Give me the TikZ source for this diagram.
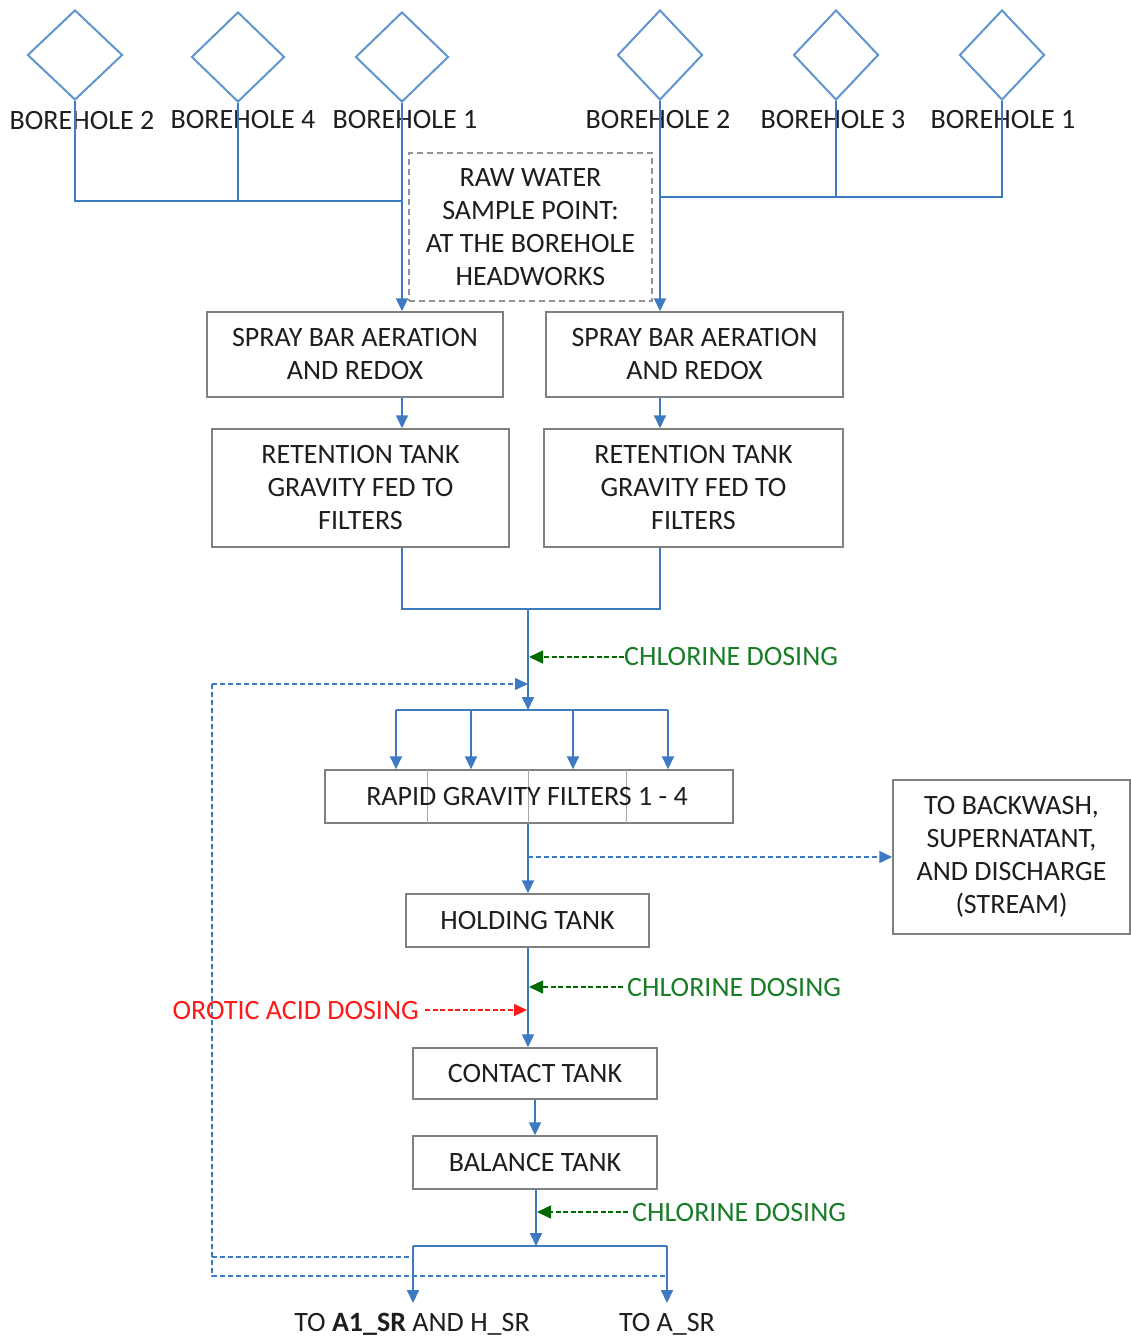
\documentclass[tikz,border=0pt]{standalone}
\usepackage{fontspec}
\setmainfont{Carlito}
\usetikzlibrary{shapes.geometric,arrows.meta}
\definecolor{lineblue}{RGB}{62,122,194}
\definecolor{diablue}{RGB}{96,150,208}
\definecolor{boxgray}{RGB}{128,128,128}
\definecolor{dgreen}{RGB}{0,105,0}
\definecolor{txtgreen}{RGB}{25,125,40}
\definecolor{ored}{RGB}{255,25,25}
\definecolor{txtblack}{RGB}{30,30,30}
\begin{document}
\begin{tikzpicture}[x=1pt,y=-1pt,font=\fontsize{28}{33}\selectfont,
  well/.style={draw=diablue,line width=2pt,shape=diamond,minimum width=93pt,minimum height=90pt,inner sep=0pt},
  lbl/.style={inner sep=0pt,text=txtblack},
  box/.style={draw=boxgray,line width=1.5pt,inner sep=0pt,align=center,text=txtblack},
  flow/.style={draw=lineblue,line width=2pt},
  arr/.style={flow,-{Triangle[width=12pt,length=13pt]}},
  dflow/.style={draw=lineblue,line width=1.5pt,dash pattern=on 5pt off 3pt},
  darr/.style={dflow,-{Triangle[width=12pt,length=13pt]}},
  gtxt/.style={inner sep=0pt,text=txtgreen},
  garr/.style={draw=dgreen,line width=1.5pt,dash pattern=on 5pt off 2.5pt,-{Triangle[width=13pt,length=14pt]}},
  rtxt/.style={inner sep=0pt,text=ored},
  rarr/.style={draw=ored,line width=1.5pt,dash pattern=on 5pt off 2.5pt,-{Triangle[width=12pt,length=13pt]}}
]
\useasboundingbox (0,0) rectangle (1131,1338);

% boreholes
\node[well,minimum width=95pt] (d1) at (75,55) {};
\node[well] (d2) at (238,57) {};
\node[well] (d3) at (402,57) {};
\node[well,minimum width=85pt] (d4) at (660,55) {};
\node[well,minimum width=85pt] (d5) at (836,55) {};
\node[well,minimum width=85pt] (d6) at (1002,55) {};

\node[lbl,anchor=base] (l1) at (82,129.5) {BOREHOLE 2};
\node[lbl,anchor=base] (l2) at (243,128) {BOREHOLE 4};
\node[lbl,anchor=base] (l3) at (405,128) {BOREHOLE 1};
\node[lbl,anchor=base] (l4) at (658,128) {BOREHOLE 2};
\node[lbl,anchor=base] (l5) at (833,128) {BOREHOLE 3};
\node[lbl,anchor=base] (l6) at (1003,128) {BOREHOLE 1};

% boxes
\node[box,draw=boxgray!85,dash pattern=on 6pt off 4pt,minimum width=243pt,minimum height=148pt] (rw) at (530.5,227) {RAW WATER\\SAMPLE POINT:\\AT THE BOREHOLE\\HEADWORKS};
\node[box,minimum width=296pt,minimum height=85pt] (sp1) at (355,354.5) {SPRAY BAR AERATION\\AND REDOX};
\node[box,minimum width=297pt,minimum height=85pt] (sp2) at (694.5,354.5) {SPRAY BAR AERATION\\AND REDOX};
\node[box,minimum width=297pt,minimum height=118pt] (rt1) at (360.5,488) {RETENTION TANK\\GRAVITY FED TO\\FILTERS};
\node[box,minimum width=299pt,minimum height=118pt] (rt2) at (693.5,488) {RETENTION TANK\\GRAVITY FED TO\\FILTERS};
\node[box,minimum width=408pt,minimum height=53pt] (rgf) at (529,796.5) {};
\draw[boxgray!70,line width=1pt] (427,770) -- (427,823) (528,770) -- (528,823) (626,770) -- (626,823);
\node[lbl] (rgft) at (527,797) {RAPID GRAVITY FILTERS 1 - 4};
\node[box,minimum width=237pt,minimum height=154pt] (bw) at (1011.5,857) {TO BACKWASH,\\SUPERNATANT,\\AND DISCHARGE\\(STREAM)};
\node[box,minimum width=243pt,minimum height=53pt] (ht) at (527.5,920.5) {HOLDING TANK};
\node[box,minimum width=244pt,minimum height=51pt] (ct) at (535,1073.5) {CONTACT TANK};
\node[box,minimum width=244pt,minimum height=53pt] (bt) at (535,1162.5) {BALANCE TANK};

% coordinates
\coordinate (jl) at (402,201);
\coordinate (jr) at (660,197);
\coordinate (m) at (528,609);
\coordinate (sp) at (528,710);
\coordinate (f1) at (396,710);
\coordinate (f2) at (471,710);
\coordinate (f3) at (573,710);
\coordinate (f4) at (668,710);
\coordinate (r1) at (212,684);
\coordinate (r2) at (212,1276);
\coordinate (r3) at (212,1257);
\coordinate (bwj) at (528,857);
\coordinate (b0) at (536,1246);
\coordinate (b1) at (413,1246);
\coordinate (b2) at (667,1246);
\coordinate (o1) at (413,1303);
\coordinate (o2) at (667,1303);

% borehole collectors
\draw[flow] (d1.south) |- (jl);
\draw[flow] (d2.south) -- (d2.south |- jl);
\draw[arr] (d3.south) -- (d3.south |- sp1.north);
\draw[flow] (d6.south) |- (jr);
\draw[flow] (d5.south) -- (d5.south |- jr);
\draw[arr] (d4.south) -- (d4.south |- sp2.north);

\draw[arr] (sp1.south -| jl) -- (rt1.north -| jl);
\draw[arr] (sp2.south -| jr) -- (rt2.north -| jr);
\draw[flow] (rt1.south -| jl) |- (m -| jr) -- (rt2.south -| jr);
\draw[arr] (m) -- (sp);
\draw[flow] (f1) -- (f4);
\draw[arr] (f1) -- (f1 |- rgf.north);
\draw[arr] (f2) -- (f2 |- rgf.north);
\draw[arr] (f3) -- (f3 |- rgf.north);
\draw[arr] (f4) -- (f4 |- rgf.north);

\node[gtxt,anchor=west] (cl1) at (624,657) {CHLORINE DOSING};
\draw[garr] (cl1.west) -- ([xshift=1pt]cl1.west -| m);

% recycle
\draw[darr] (r1) -- (r1 -| m);
\draw[dflow] (r1) -- (r2) -- (r2 -| b2);
\draw[dflow] (r3) -- (r3 -| b1);

\draw[arr] (rgf.south -| m) -- (ht.north -| m);
\draw[darr] (bwj) -- (bw.west);

\draw[arr] (ht.south -| m) -- (ct.north -| m);
\node[gtxt,anchor=west] (cl2) at (627,987) {CHLORINE DOSING};
\draw[garr] ([xshift=-4pt]cl2.west) -- ([xshift=1pt]cl2.west -| m);
\node[rtxt,anchor=east] (oa) at (419,1010) {OROTIC ACID DOSING};
\draw[rarr] ([xshift=6pt]oa.east) -- ([xshift=-1pt]oa.east -| m);

\draw[arr] (ct.south) -- (bt.north);
\draw[arr] (bt.south -| b0) -- (b0);
\node[gtxt,anchor=west] (cl3) at (632,1212) {CHLORINE DOSING};
\draw[garr] ([xshift=-4pt]cl3.west) -- ([xshift=1pt]cl3.west -| b0);
\draw[flow] (b1) -- (b2);
\draw[arr] (b1) -- (o1);
\draw[arr] (b2) -- (o2);

\node[lbl,anchor=base] (t1) at (412,1331) {TO \textbf{A1\_SR} AND H\_SR};
\node[lbl,anchor=base] (t2) at (667,1331) {TO A\_SR};
\end{tikzpicture}
\end{document}
